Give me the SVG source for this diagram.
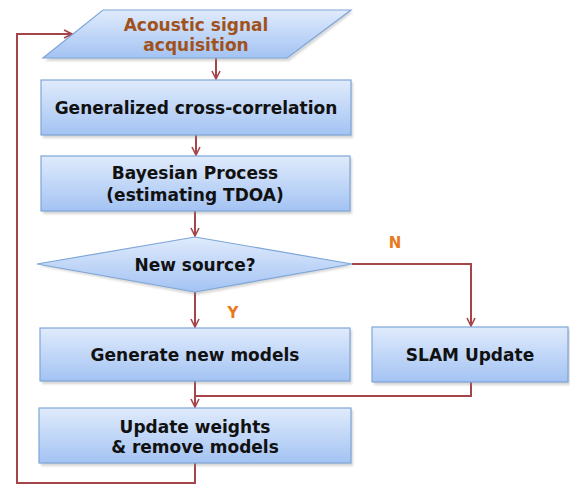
<svg xmlns="http://www.w3.org/2000/svg" width="570" height="485" viewBox="0 0 570 485">
  <style>
    .shape { fill: url(#boxFill); stroke: #7ea6d8; stroke-width: 1.2; }
    .shadow { fill: #8a8a8a; opacity: 0.35; filter: url(#soft); }
    .label { font-family: "DejaVu Sans", Verdana, sans-serif; font-weight: bold; font-size: 17px; fill: #111; text-anchor: middle; dominant-baseline: central; }
    .input { fill: #a0521c; }
    .branch { font-family: "DejaVu Sans", Verdana, sans-serif; font-weight: bold; font-size: 15px; fill: #e8781c; text-anchor: middle; dominant-baseline: central; }
    .wire { fill: none; stroke: #a5454a; stroke-width: 2; }
    .arrow { fill: none; stroke: #a5454a; stroke-width: 2; marker-end: url(#head); }
  </style>
  <defs>
    <linearGradient id="boxFill" x1="0" y1="0" x2="0" y2="1">
      <stop offset="0" stop-color="#e0ebfc"/>
      <stop offset="1" stop-color="#a3c3f3"/>
    </linearGradient>
    <filter id="soft" x="-5%" y="-20%" width="110%" height="140%">
      <feGaussianBlur stdDeviation="1.2"/>
    </filter>
    <marker id="head" viewBox="0 0 10 10" refX="9" refY="5" markerWidth="5" markerHeight="5" orient="auto" markerUnits="strokeWidth">
      <path d="M1,1 L9,5 L1,9" fill="none" stroke="#a5454a" stroke-width="1.6"/>
    </marker>
  </defs>

  <!-- connectors -->
  <g id="connectors">
    <path class="arrow" d="M216,58 V79"/>
    <path class="arrow" d="M196,135 V155"/>
    <path class="arrow" d="M195,211 V236"/>
    <path class="arrow" d="M195,292 V327"/>
    <path class="arrow" d="M352,264 H471 V326"/>
    <path class="arrow" d="M195,381 V407"/>
    <path class="wire" d="M471,382 V396 H195"/>
    <path class="arrow" d="M195,463 V483 H17 V34 H72"/>
  </g>

  <text class="branch" x="395" y="243">N</text>
  <text class="branch" x="233" y="313">Y</text>

  <g id="acquisition">
    <polygon class="shadow" points="105,12 353,12 289,61 45,61"/>
    <polygon class="shape" points="103,10 351,10 287,58 43,58"/>
    <text class="label input" x="196" y="25">Acoustic signal</text>
    <text class="label input" x="196" y="45">acquisition</text>
  </g>

  <g id="gcc">
    <rect class="shadow" x="43" y="82" width="310" height="56"/>
    <rect class="shape" x="41" y="80" width="310" height="55"/>
    <text class="label" x="196" y="108">Generalized cross-correlation</text>
  </g>

  <g id="bayesian">
    <rect class="shadow" x="43" y="158" width="309" height="56"/>
    <rect class="shape" x="41" y="156" width="309" height="55"/>
    <text class="label" x="195" y="173">Bayesian Process</text>
    <text class="label" x="195" y="195">(estimating TDOA)</text>
  </g>

  <g id="decision">
    <polygon class="shadow" points="196,239 354,266 196,295 39,266"/>
    <polygon class="shape" points="195,237 352,264 195,292 37,264"/>
    <text class="label" x="195" y="265">New source?</text>
  </g>

  <g id="generate">
    <rect class="shadow" x="42" y="330" width="310" height="54"/>
    <rect class="shape" x="40" y="328" width="310" height="53"/>
    <text class="label" x="195" y="355">Generate new models</text>
  </g>

  <g id="slam">
    <rect class="shadow" x="374" y="329" width="196" height="56"/>
    <rect class="shape" x="372" y="327" width="196" height="55"/>
    <text class="label" x="470" y="355">SLAM Update</text>
  </g>

  <g id="update">
    <rect class="shadow" x="41" y="410" width="312" height="56"/>
    <rect class="shape" x="39" y="408" width="312" height="55"/>
    <text class="label" x="195" y="427">Update weights</text>
    <text class="label" x="195" y="447">&amp; remove models</text>
  </g>
</svg>
